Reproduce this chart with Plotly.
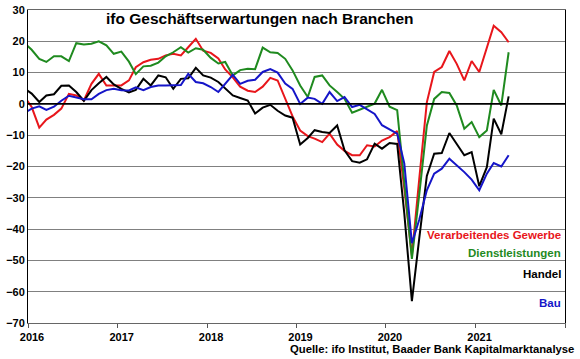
import pandas as pd
import plotly.graph_objects as go

# Monthly data Dec 2015 .. May 2021 (points plotted mid-month)
months = pd.date_range("2015-12-01", "2021-05-01", freq="MS") + pd.Timedelta(days=15)

verarbeitendes_gewerbe = [
    2.5,
    -1.0, -7.6, -5.0, -3.5, -1.5, 3.2, 2.7, 1.1, 6.4, 9.6, 5.9, 5.9,
    5.9, 7.5, 11.7, 13.3, 14.1, 14.4, 15.5, 16.0, 15.5, 18.1, 20.8, 17.0,
    16.3, 14.5, 11.0, 8.5, 5.5, 4.2, 3.8, 5.5, 8.3, 7.5, 1.5, -4.0,
    -8.5, -10.3, -11.1, -12.2, -9.5, -13.0, -15.0, -16.4, -16.4, -13.2, -13.6, -11.7,
    -10.6, -8.7, -27.0, -48.5, -24.0, 0.5, 10.2, 11.8, 16.9, 12.8, 7.5, 13.7,
    10.2, 18.1, 25.0, 22.9, 19.7,
]
dienstleistungen = [
    19.5,
    17.3, 14.4, 13.4, 15.2, 15.2, 13.7, 19.4, 19.0, 19.2, 20.0, 18.7, 16.0,
    16.7, 13.5, 9.5, 12.0, 12.2, 13.2, 15.2, 16.5, 18.1, 16.4, 17.8, 17.3,
    14.7, 12.9, 13.4, 9.1, 10.8, 11.2, 11.1, 18.0, 16.5, 16.3, 14.4, 10.7,
    5.9, 2.2, 8.6, 9.1, 5.9, 3.8, 1.6, -2.8, -1.8, -1.0, 0.1, 4.5,
    -0.9, -2.0, -24.0, -49.5, -29.0, -7.0, 1.6, 3.8, 3.5, -0.5, -7.9, -5.8,
    -10.6, -8.5, 4.5, -0.5, 16.5,
]
handel = [
    5.0,
    3.3, 0.6, 2.7, 3.1, 5.8, 5.9, 3.8, 1.0, 4.4, 6.6, 8.6, 6.2,
    4.8, 3.7, 4.5, 8.0, 5.9, 9.1, 8.5, 4.8, 8.0, 8.2, 11.5, 9.1,
    8.4, 7.0, 5.0, 2.7, 1.9, 1.1, -3.1, -1.2, -0.3, -2.2, -3.7, -4.4,
    -13.0, -10.9, -8.4, -9.0, -9.3, -6.9, -14.8, -18.3, -18.8, -17.7, -12.7, -14.3,
    -12.5, -12.8, -35.0, -63.0, -43.0, -23.0, -15.9, -15.7, -9.3, -12.7, -16.4, -15.4,
    -26.3, -20.2, -4.7, -9.7, 2.4,
]
bau = [
    -3.0,
    -1.5, -0.8, -1.9, -0.9, 1.0, 2.6, 2.1, 1.5, 1.5, 3.2, 4.4, 4.8,
    4.4, 4.3, 5.3, 4.4, 5.4, 5.9, 5.9, 5.9, 6.0, 9.6, 7.0, 6.6,
    5.4, 3.8, 6.4, 9.3, 6.4, 7.4, 7.7, 10.2, 11.1, 10.0, 6.5, 4.8,
    0.0, 2.0, 1.6, 0.0, 3.8, 0.9, 2.2, -1.0, -0.3, -1.8, -3.2, -6.8,
    -8.2, -9.5, -19.0, -44.5, -37.0, -27.6, -22.3, -20.7, -17.5, -19.6, -21.8, -24.2,
    -27.6, -22.3, -18.9, -20.0, -16.4,
]

series_names = ["Verarbeitendes Gewerbe", "Dienstleistungen", "Handel", "Bau"]
series_values = [verarbeitendes_gewerbe, dienstleistungen, handel, bau]
line_colors = ["#e8161b", "#1f8a1f", "#000000", "#1515c8"]
label_colors = ["#e8161b", "#1f8a1f", "#000000", "#1515c8"]
label_y = [-41.9, -47.6, -54.2, -63.7]

year_ticks = ["2016-01-01", "2017-01-01", "2018-01-01", "2019-01-01",
              "2020-01-01", "2021-01-01", "2022-01-01"]
year_labels = ["2016", "2017", "2018", "2019", "2020", "2021", ""]
y_ticks = [30, 20, 10, 0, -10, -20, -30, -40, -50, -60, -70]

FONT = "Liberation Sans, Arial, sans-serif"

fig = go.Figure()
for name, vals, col in zip(series_names, series_values, line_colors):
    fig.add_trace(go.Scatter(x=months, y=vals, mode="lines", name=name,
                             line=dict(color=col, width=2)))

for name, ly, col in zip(series_names, label_y, label_colors):
    fig.add_annotation(x=1, xref="paper", xanchor="right", y=ly, yref="y",
                       text=f"<b>{name}</b>", showarrow=False,
                       font=dict(family=FONT, size=11.5, color=col), xshift=-2)

fig.add_annotation(x=0.1415, xref="paper", xanchor="left", y=27.2, yref="y",
                   text="<b>ifo Geschäftserwartungen nach Branchen</b>",
                   showarrow=False, font=dict(family=FONT, size=15.5, color="#000"))
fig.add_annotation(x=0.484, xref="paper", xanchor="left", y=0, yref="paper",
                   yanchor="middle", yshift=-26,
                   text="<b>Quelle: ifo Institut, Baader Bank Kapitalmarktanalyse</b>",
                   showarrow=False, font=dict(family=FONT, size=11.3, color="#000"))

# zero line
fig.add_shape(type="line", xref="paper", x0=0, x1=1, yref="y", y0=0, y1=0,
              line=dict(color="#000", width=1.6), layer="above")

fig.update_layout(
    width=580, height=359,
    margin=dict(l=28, r=15, t=10, b=36, autoexpand=False),
    paper_bgcolor="white", plot_bgcolor="white",
    showlegend=False,
    font=dict(family=FONT, color="#000"),
)
fig.update_xaxes(
    type="date", range=["2016-01-01", "2022-01-01"],
    tickvals=year_ticks, ticktext=year_labels,
    ticks="outside", ticklen=4, tickcolor="#555", tickwidth=1,
    tickfont=dict(family=FONT, size=11, weight="bold"),
    ticklabelshift=4, ticklabelstandoff=0, automargin=False,
    showgrid=False, showline=True, linecolor="#666", linewidth=1,
    mirror=True, zeroline=False,
)
fig.update_yaxes(
    range=[-70, 30], tickvals=y_ticks, automargin=False,
    ticks="", tickfont=dict(family=FONT, size=11, weight="bold"),
    showgrid=True, gridcolor="#808080", gridwidth=1,
    showline=True, linecolor="#000", linewidth=1, mirror=True,
    zeroline=False,
)

fig.write_html("out.html", config={"displayModeBar": False},
               post_script="document.body.style.margin='0';document.body.style.overflow='hidden';")
